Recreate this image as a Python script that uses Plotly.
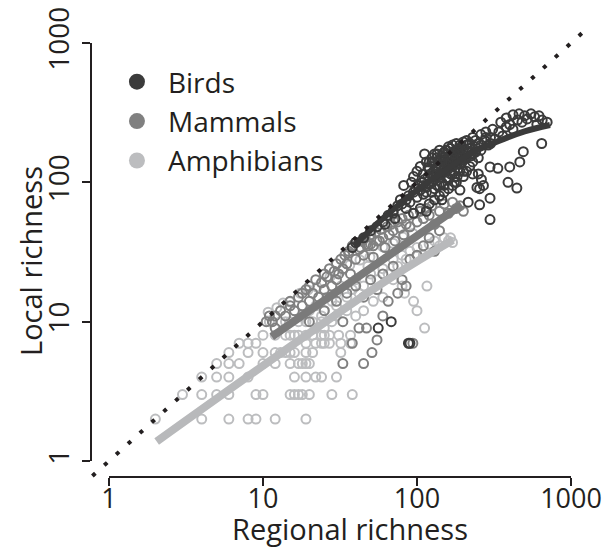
import plotly.graph_objects as go

# ---------------- data ----------------
tick_vals = [1, 10, 100, 1000]
tick_text = ["1", "10", "100", "1000"]
species = ["Birds", "Mammals", "Amphibians"]
x_title = "Regional richness"
y_title = "Local richness"

birds_regional = [38, 40, 45, 50, 55, 60, 65, 70, 72, 75, 80, 85, 88, 90, 95, 98, 100, 102, 105, 108,
                  110, 112, 115, 118, 120, 122, 125, 128, 130, 132, 135, 138, 140, 142, 145, 148, 150, 152,
                  155, 158, 160, 162, 165, 168, 170, 172, 175, 178, 180, 182, 185, 188, 190, 192, 195, 198,
                  200, 205, 210, 215, 220, 230, 240, 250, 260, 275, 290, 300, 320, 340, 360, 380, 400, 420,
                  450, 480, 500, 520, 550, 580, 600, 620, 650, 700, 420, 460, 380, 350, 310, 280, 260, 230,
                  210, 645, 490, 465, 400, 390, 445, 335, 298, 250, 262, 270, 255, 245, 298, 255, 215, 298,
                  88, 90, 68, 56, 120, 130, 140, 150, 160, 170, 180, 190, 200, 210, 220, 230, 145, 105, 95,
                  115, 125, 135, 155, 175, 185, 112, 118, 128, 148, 165,
                  95, 100, 105, 110, 115, 120, 125, 130, 135, 140, 145, 150, 155, 160, 165, 170, 175, 180,
                  185, 190, 195, 200, 210, 220, 230, 240, 250, 130, 140, 150, 160, 170, 180, 190, 200, 110,
                  120, 130, 140, 150, 160, 170, 180, 190, 200, 115, 125, 135, 145, 155, 165, 175, 185, 195,
                  210, 225, 240, 260, 280, 300, 82, 78, 92, 85, 70, 62]
birds_local = [34, 37, 40, 45, 48, 52, 58, 62, 55, 68, 70, 75, 80, 72, 85, 90, 78, 95, 88, 100,
               82, 105, 92, 110, 98, 115, 85, 120, 105, 125, 95, 130, 112, 135, 100, 140, 118, 145,
               108, 150, 125, 155, 115, 160, 130, 165, 120, 140, 170, 110, 150, 175, 135, 160, 180, 145,
               170, 155, 185, 165, 175, 160, 180, 190, 170, 200, 185, 210, 205, 230, 215, 250, 260, 240,
               280, 270, 300, 285, 310, 295, 260, 300, 280, 270, 305, 310, 290, 270, 240, 230, 220, 210,
               200, 190, 166, 140, 129, 100, 91, 126, 129, 115, 105, 95, 90, 92, 77, 69, 72, 54,
               7, 7, 10, 9, 70, 75, 80, 85, 90, 95, 100, 88, 110, 120, 130, 115, 75, 65, 60,
               62, 140, 150, 135, 145, 125, 160, 128, 112, 122, 138,
               110, 120, 130, 95, 140, 125, 150, 90, 160, 145, 120, 165, 135, 105, 175, 150, 100, 155,
               125, 185, 140, 120, 150, 190, 140, 165, 150, 140, 95, 150, 180, 115, 135, 160, 195, 115,
               140, 160, 170, 95, 140, 185, 190, 120, 145, 85, 100, 115, 155, 170, 140, 160, 170, 150,
               170, 155, 200, 185, 210, 190, 95, 75, 100, 65, 60, 50]

mammals_regional = [10.5, 11, 11.5, 12, 12, 13, 14, 15, 15, 16, 17, 18, 18, 19, 20, 20, 21, 22, 23, 24,
                    25, 25, 26, 27, 28, 29, 30, 30, 31, 32, 33, 34, 35, 36, 37, 38, 40, 40, 42, 44,
                    45, 46, 48, 50, 50, 52, 54, 55, 58, 60, 62, 64, 66, 68, 70, 72, 75, 78, 80, 82,
                    85, 88, 90, 95, 100, 105, 110, 115, 120, 125, 130, 140, 150, 160, 170, 180, 190, 200,
                    20, 25, 30, 35, 40, 45, 50, 55, 60, 70, 80, 90, 100, 42, 47, 51, 33, 45, 38, 55,
                    60, 65, 75, 85, 110, 120, 130, 140, 33, 94, 47, 52, 57, 43, 36]
mammals_local = [10, 11, 10, 9, 11, 12, 11, 13, 14, 12, 15, 13, 16, 17, 14, 18, 16, 20, 15, 19,
                 22, 17, 21, 24, 18, 23, 26, 20, 22, 28, 24, 30, 26, 32, 22, 35, 28, 37, 33, 38,
                 30, 40, 35, 42, 36, 29, 44, 38, 46, 40, 34, 48, 42, 50, 45, 38, 52, 47, 55, 42,
                 50, 58, 48, 60, 52, 62, 55, 65, 58, 68, 50, 62, 70, 60, 72, 65, 68, 62,
                 10, 12, 14, 16, 18, 15, 20, 17, 22, 25, 20, 28, 30, 9, 9, 6, 5, 5, 7, 7.4,
                 11, 14, 16, 18, 35, 40, 32, 45, 10, 7, 36, 35, 38, 34, 31]

amphibians_regional = [2, 4, 6, 8, 9, 12, 19,
                       3, 4, 5, 6, 9, 10, 15, 16, 17, 18, 20, 28, 38,
                       4, 5, 6, 8, 16, 19, 22, 24, 30,
                       5, 6, 7, 10, 12, 15, 17, 18, 19, 20,
                       6, 8, 10, 12, 13, 14, 15, 16, 19, 21, 32,
                       7, 8, 9, 19, 22, 24, 25, 27, 32, 37,
                       10, 12, 14, 15, 16, 17, 19, 21, 24, 25, 27, 31, 37,
                       11, 13, 14, 15, 17, 19, 21, 24,
                       20, 22, 25, 28, 30, 18, 16, 24, 26, 30, 35, 32, 38, 40, 45, 50, 42, 55, 60,
                       48, 65, 70, 75, 80, 85, 90, 100, 110, 120, 130, 140, 150, 160, 165, 170, 83,
                       116, 112, 100, 95, 80, 70, 60, 52, 45, 40, 35, 30, 28, 25, 22,
                       10.8, 12.3, 13.5, 14.9, 17.4, 19.6, 22.4, 24.1, 27.2, 30.2, 33, 36.6, 42.6,
                       49.5, 60, 70, 81, 94]
amphibians_local = [2, 2, 2, 2, 2, 2, 2,
                    3, 3, 3, 3, 3, 3, 3, 3, 3, 3, 3, 3, 3,
                    4, 4, 4, 4, 4, 4, 4, 4, 4,
                    5, 5, 5, 5, 5, 5, 5, 5, 5, 5,
                    6, 6, 6, 6, 6, 6, 6, 6, 6, 6, 6,
                    7, 7, 7, 7, 7, 7, 7, 7, 7, 7,
                    8, 8, 8, 8, 8, 8, 8, 8, 8, 8, 8, 8, 8,
                    10, 10, 10, 10, 10, 10, 10, 10,
                    12, 13, 12, 14, 13, 11, 12, 11, 15, 16, 15, 18, 17, 20, 18, 22, 16, 20, 24,
                    25, 22, 28, 25, 30, 28, 32, 34, 30, 36, 38, 35, 40, 38, 40, 37, 16,
                    18, 9, 12, 14, 18, 20, 15, 14, 12, 11, 12, 11, 10, 9, 9,
                    11.7, 12.6, 13.6, 13.9, 16, 16.9, 17.7, 19.2, 20.9, 22.3, 23.5, 25.5, 27.7,
                    29.1, 34.4, 36.6, 40.5, 43]

birds_fit_x = [39, 60, 100, 150, 220, 346, 500, 730]
birds_fit_y = [35, 55, 88, 120, 160, 200, 232, 258]
mammals_fit_x = [11.4, 47, 195]
mammals_fit_y = [7.8, 23.1, 69]
amphibians_fit_x = [2.04, 57, 171]
amphibians_fit_y = [1.38, 18.3, 38.6]
one_to_one = [0.78, 1330]

# ---------------- style ----------------
INK = "#231f20"
C_BIRD, C_MAM, C_AMP = "#3b3b3b", "#808080", "#bcbdbf"
FONT = "Open Sans"
W, H = 616, 548
# pixel geometry of the reference
X1, X1000 = 109, 571
Y1, Y1000 = 461, 43
XAXIS_PX, YAXIS_PX = 477, 90.7

xdec = (X1000 - X1) / 3.0
ydec = (Y1 - Y1000) / 3.0
xr = [-X1 / xdec, -X1 / xdec + W / xdec]
yr = [-(H - Y1) / ydec, 3 + Y1000 / ydec]

fig = go.Figure()

def pts(x, y, c):
    fig.add_trace(go.Scatter(x=x, y=y, mode="markers", showlegend=False, hoverinfo="skip",
                             marker=dict(symbol="circle-open", size=9, color=c,
                                         line=dict(width=2, color=c))))

pts(amphibians_regional, amphibians_local, C_AMP)
pts(mammals_regional, mammals_local, C_MAM)
pts(birds_regional, birds_local, C_BIRD)

def fit(x, y, c, w):
    fig.add_trace(go.Scatter(x=x, y=y, mode="lines", showlegend=False, hoverinfo="skip",
                             line=dict(color=c, width=w, shape="spline")))

fit(amphibians_fit_x, amphibians_fit_y, "#b8b9bb", 8)
fit(mammals_fit_x, mammals_fit_y, "#7a7a7a", 8)
fit(birds_fit_x, birds_fit_y, "#3a3a3a", 6)

fig.add_trace(go.Scatter(x=one_to_one, y=one_to_one, mode="lines", showlegend=False,
                         hoverinfo="skip", line=dict(color=INK, width=4, dash="4px,12px")))

# legend entries
for name, c in zip(species, [C_BIRD, C_MAM, C_AMP]):
    fig.add_trace(go.Scatter(x=[None], y=[None], mode="markers", name=name, legendgroup=name,
                             marker=dict(symbol="circle", size=16, color=c)))

# invisible trace to instantiate the display axes
fig.add_trace(go.Scatter(x=tick_vals, y=tick_vals, xaxis="x2", yaxis="y2", mode="markers",
                         marker=dict(opacity=0), showlegend=False, hoverinfo="skip"))

axis_common = dict(type="log", range=[0, 3], tickvals=tick_vals, ticktext=tick_text,
                   ticks="outside", ticklen=8, tickwidth=2, tickcolor=INK,
                   showline=True, linewidth=2, linecolor=INK, showgrid=False, zeroline=False,
                   anchor="free", fixedrange=True, automargin=False)

title_font = dict(family=FONT, size=29, color=INK)

fig.update_layout(
    width=W, height=H, margin=dict(l=0, r=0, t=0, b=0, autoexpand=False),
    paper_bgcolor="white", plot_bgcolor="rgba(0,0,0,0)",
    xaxis=dict(type="log", range=xr, visible=False, fixedrange=True, automargin=False),
    yaxis=dict(type="log", range=yr, visible=False, fixedrange=True, automargin=False),
    xaxis2=dict(domain=[X1 / W, X1000 / W], position=(H - XAXIS_PX) / H,
                ticklabelstandoff=-10, tickfont=dict(family=FONT, size=27, color=INK),
                **axis_common),
    yaxis2=dict(domain=[(H - Y1) / H, (H - Y1000) / H], position=YAXIS_PX / W,
                tickangle=-90, ticklabelstandoff=2,
                tickfont=dict(family=FONT, size=28, color=INK), **axis_common),
    legend=dict(x=0.172, y=0.896, xanchor="left", yanchor="top", bgcolor="rgba(0,0,0,0)",
                font=dict(family=FONT, size=28, color=INK), tracegroupgap=0,
                itemsizing="trace", itemwidth=52),
    showlegend=True,
    annotations=[
        dict(text=x_title, xref="paper", yref="paper", x=350 / W, y=1 - 528 / H,
             xanchor="center", yanchor="middle", showarrow=False, font=title_font),
        dict(text=y_title, xref="paper", yref="paper", x=30 / W, y=1 - 261 / H,
             xanchor="center", yanchor="middle", showarrow=False, textangle=-90,
             font=title_font),
    ],
)

fig.write_html("out.html")
